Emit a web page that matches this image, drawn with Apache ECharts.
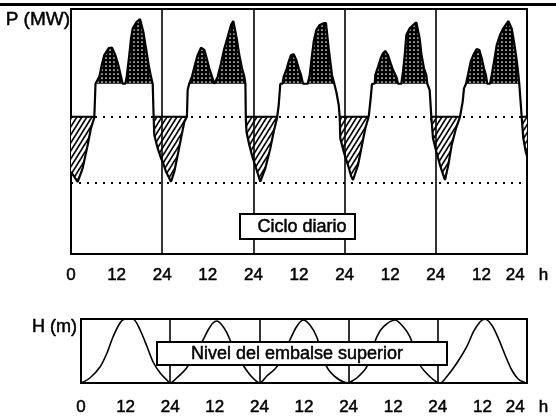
<!DOCTYPE html>
<html><head><meta charset="utf-8">
<script src="https://cdn.jsdelivr.net/npm/echarts@6/dist/echarts.min.js"></script>
<style>html,body{margin:0;padding:0;background:#fff}#c{width:556px;height:419px}</style>
</head><body><div id="c"></div>
<script>
// ---------- datos ----------
const etiquetasX = ['0','12','24','12','24','12','24','12','24','12','24   h'];
const limitesDia = [24, 48, 72, 96];
const nivelGeneracion = 69.5;   // meseta de generación
const nivelBombeo = 56;         // nivel de bombeo (línea punteada superior)
const nivelMinimo = 29;         // línea punteada inferior

// curva de carga, [hora del día, P]
const cargaDia1 = [[0,33.5],[1.76,29.4],[3.08,35.1],[4.39,44.5],[5.26,51.4],[6.13,55.6],[6.35,56],[6.45,69.5],[6.76,69.5],[7.45,72.4],[8.08,77.1],[8.76,81.2],[9.92,84.0],[10.79,84.2],[11.66,81.2],[12.45,77.1],[13.16,72.4],[13.6,69.5],[14.29,69.5],[14.66,72.4],[15.34,81.2],[15.79,88.0],[16.24,92.1],[17.29,94.8],[18.16,95.9],[19.03,90.7],[19.74,83.9],[20.45,77.1],[21.05,72.4],[21.5,69.5],[21.66,69.5],[21.75,56],[21.92,48.6],[22.82,43.1],[23.68,39.1]];
const cargaDia2 = [[0.13,37.7],[1.0,33.6],[1.87,30.9],[2.32,29.5],[3.18,33.6],[4.08,40.4],[4.95,47.2],[5.82,54.0],[6.5,56],[6.7,66.9],[7.1,69.5],[7.58,69.5],[7.84,72.4],[8.71,77.8],[9.34,81.2],[10.21,84.2],[11.08,83.3],[11.71,79.9],[12.39,75.8],[13.11,72.4],[13.71,69.5],[14.16,69.5],[14.61,72.4],[15.47,77.8],[16.34,83.9],[17.24,88.7],[18.11,93.5],[18.71,95.1],[19.61,88.0],[20.29,81.2],[21.0,75.8],[21.61,72.4],[21.9,69.5],[22.0,56],[22.18,49.9],[22.92,44.5],[23.82,39.2]];
const cargaDia3 = [[0.68,35.1],[1.82,29.5],[3.13,35.0],[4.45,43.1],[5.34,49.9],[6.21,55.4],[6.47,56],[6.66,60.8],[7.08,69.5],[7.66,69.5],[7.97,72.4],[8.66,75.1],[9.29,78.5],[9.89,81.2],[10.61,81.5],[11.29,79.2],[11.92,75.8],[12.53,73.1],[13.05,69.5],[14.29,69.5],[14.82,73.1],[15.42,81.2],[15.87,86.7],[16.55,91.4],[17.45,93.5],[18.5,94.2],[19.1,94.2],[19.82,83.9],[20.24,78.5],[20.68,73.1],[21.29,69.5],[21.55,69.5],[21.82,66.2],[22.45,60.8],[22.71,56],[22.87,47.2],[23.76,41.8]];
const cargaDia4 = [[0.03,41.6],[0.89,36.3],[1.76,31.6],[2.21,30.2],[3.53,36.3],[4.58,44.5],[5.45,51.3],[6.34,56],[6.87,63.6],[7.21,69.5],[7.92,69.5],[8.08,73.1],[8.79,76.4],[9.5,79.9],[10.11,81.9],[10.71,82.9],[11.42,81.2],[12.13,77.8],[12.74,75.1],[13.61,72.4],[14.05,69.5],[14.92,69.5],[15.37,74.5],[15.82,81.2],[16.24,89.4],[17.13,92.1],[18.26,93.8],[18.87,94.6],[19.76,88.0],[20.18,81.9],[20.89,75.8],[21.5,73.1],[21.76,69.5],[21.95,69.5],[22.39,66.9],[22.82,56],[23.26,47.3]];
const cargaDia5 = [[0.13,41.8],[1.11,36.3],[1.97,32.2],[2.42,30.2],[3.29,36.3],[4.18,44.5],[5.32,51.3],[6.37,56],[7.08,62.2],[7.42,67.6],[7.95,69.5],[8.13,69.5],[8.55,73.8],[9.18,78.5],[9.87,81.2],[10.76,83.7],[11.45,83.3],[12.08,79.9],[12.68,75.8],[13.21,72.8],[13.55,69.5],[14.26,69.5],[14.71,73.1],[15.32,78.5],[16.03,85.3],[16.89,89.4],[17.76,92.1],[19.08,95.1],[19.97,92.1],[20.58,86.7],[21.11,81.2],[21.55,75.8],[21.97,69.5],[22.34,69.5],[22.6,56],[23.03,47.2],[23.66,41.8],[24,40.0]];

// nivel del embalse superior, [hora del día, H]
const nivelDia1 = [[0,0],[2.4,7.8],[5.1,25],[7.0,46.9],[8.6,71.9],[10.5,93.8],[11.8,99.5],[14.0,99.5],[15.9,82.8],[17.8,56.3],[19.4,32.8],[21.3,15.6],[23.1,4.7]];
const nivelDia2 = [[0,0],[1.75,7.8],[4.4,23.4],[8.8,67],[10.2,82.8],[11.5,93.8],[12.6,96.9],[13.9,90.6],[15.3,78.1],[16.1,67.2],[19.6,28.1],[21.5,12.5],[23.4,1.6]];
const nivelDia3 = [[0,0],[2.0,10.9],[4.7,25.5],[8.2,67.2],[10.0,88],[11.8,98.4],[13.6,90.6],[15.4,72.3],[18.1,25.5],[20.8,7.8],[23.9,0]];
const nivelDia4 = [[0,0],[2.2,7.8],[4.9,25.5],[7.6,72.3],[9.4,88],[12.5,98.4],[14.7,88],[16.5,72.3],[19.2,28.1],[21.9,9.8],[24.0,0.5]];
const nivelDia5 = [[0.6,0],[2.4,9.8],[5.1,30.8],[7.8,56.7],[9.6,80.2],[11.4,95.8],[12.7,99.5],[14.5,90.6],[16.3,69.8],[18.1,43.8],[19.9,20.3],[21.7,5.8],[23.5,0.5],[24,0]];

// ---------- construcción ----------
function unir(dias){ const out=[]; dias.forEach((d,i)=>d.forEach(([h,v])=>out.push([h+24*i,v]))); return out; }
const carga = unir([cargaDia1,cargaDia2,cargaDia3,cargaDia4,cargaDia5]);
const nivel = unir([nivelDia1,nivelDia2,nivelDia3,nivelDia4,nivelDia5]);

function patronRayado(){
  const c=document.createElement('canvas'); c.width=5; c.height=8;
  const g=c.getContext('2d'); g.fillStyle='#fff'; g.fillRect(0,0,5,8);
  g.strokeStyle='#000'; g.lineWidth=1.7;
  for(let k=-1;k<=3;k++){ g.beginPath(); g.moveTo(-5,8*k+8); g.lineTo(10,8*k-16); g.stroke(); }
  return c;
}
function patronPuntos(){
  const c=document.createElement('canvas'); c.width=4; c.height=4;
  const g=c.getContext('2d'); g.fillStyle='#000'; g.fillRect(0,0,4,4);
  g.fillStyle='#fff'; g.beginPath(); g.arc(2,2,0.85,0,Math.PI*2); g.fill();
  return c;
}
const FONT='Liberation Sans, Arial, sans-serif';
const labelFmt = v => etiquetasX[Math.round(v/12)];
const xBase = (gi, m)=>({type:'value', gridIndex:gi, min:0, max:120, interval:12,
  axisLine:{show:false}, axisTick:{show:false}, splitLine:{show:false},
  axisLabel:{show:true, formatter:labelFmt, margin:m, fontSize:17, color:'#000', fontFamily:FONT,
    textBorderColor:'#000', textBorderWidth:0.5, showMinLabel:true, showMaxLabel:true}});
const diaLines = limitesDia.map(x=>({xAxis:x}));
const txt = (s)=>Object.assign({fill:'#000', stroke:'#000', lineWidth:0.5}, s);

const chart = echarts.init(document.getElementById('c'), null, {renderer:'canvas'});
chart.setOption({
  animation:false,
  backgroundColor:'#fff',
  grid:[
    {left:71, right:29, top:9, height:245, show:true, borderColor:'#000', borderWidth:2, backgroundColor:'transparent', outerBoundsMode:'none'},
    {left:81, right:29, top:319, height:64, show:true, borderColor:'#000', borderWidth:2, backgroundColor:'transparent', outerBoundsMode:'none'}
  ],
  xAxis:[xBase(0, 13), xBase(1, 16)],
  yAxis:[
    {type:'value', gridIndex:0, min:0, max:100, show:false, splitLine:{show:false}},
    {type:'value', gridIndex:1, min:0, max:100, show:false, splitLine:{show:false}}
  ],
  series:[
    {type:'line', xAxisIndex:0, yAxisIndex:0, symbol:'none', silent:true,
     data:carga.map(([t,p])=>[t,Math.min(p,nivelBombeo)]),
     lineStyle:{width:0}, areaStyle:{color:{image:patronRayado(),repeat:'repeat'}, opacity:1, origin:nivelBombeo}},
    {type:'line', xAxisIndex:0, yAxisIndex:0, symbol:'none', silent:true,
     data:carga.map(([t,p])=>[t,Math.max(p,nivelGeneracion)]),
     lineStyle:{width:0}, areaStyle:{color:{image:patronPuntos(),repeat:'repeat'}, opacity:1, origin:nivelGeneracion}},
    {type:'line', xAxisIndex:0, yAxisIndex:0, symbol:'none', silent:true,
     data:carga.map(([t,p])=>[t, p<=nivelBombeo ? nivelBombeo : null]),
     lineStyle:{width:2, color:'#000'},
     markLine:{silent:true, symbol:'none', label:{show:false},
       data:[{yAxis:nivelBombeo},{yAxis:nivelMinimo}],
       lineStyle:{type:[2,6], width:2, color:'#000'}}},
    {type:'line', xAxisIndex:0, yAxisIndex:0, symbol:'none', silent:true, data:carga,
     lineStyle:{width:2.2, color:'#000'},
     markLine:{silent:true, symbol:'none', label:{show:false}, data:diaLines,
       lineStyle:{type:'solid', width:1.6, color:'#000'}}},
    {type:'line', xAxisIndex:1, yAxisIndex:1, symbol:'none', silent:true, data:nivel, smooth:0.3,
     lineStyle:{width:1.6, color:'#000'},
     markLine:{silent:true, symbol:'none', label:{show:false}, data:diaLines,
       lineStyle:{type:'solid', width:1.6, color:'#000'}}}
  ],
  graphic:[
    {type:'rect', z:100, shape:{x:0,y:3,width:556,height:3}, style:{fill:'#000'}},
    {type:'text', z:100, x:70, y:20, style:txt({text:'P (MW)', font:'19px '+FONT, align:'right', verticalAlign:'middle'})},
    {type:'text', z:100, x:77, y:327, style:txt({text:'H (m)', font:'18px '+FONT, align:'right', verticalAlign:'middle'})},
    {type:'group', z:100, children:[
      {type:'rect', z:100, shape:{x:240,y:214,width:115,height:25}, style:{fill:'#fff', stroke:'#000', lineWidth:2}},
      {type:'text', z:101, x:302, y:227, style:txt({text:'Ciclo diario', font:'18px '+FONT, align:'center', verticalAlign:'middle'})}
    ]},
    {type:'group', z:100, children:[
      {type:'rect', z:100, shape:{x:157,y:342,width:290,height:23}, style:{fill:'#fff', stroke:'#000', lineWidth:2}},
      {type:'text', z:101, x:297, y:354, style:txt({text:'Nivel del embalse superior', font:'18px '+FONT, align:'center', verticalAlign:'middle'})}
    ]}
  ]
});
</script></body></html>
